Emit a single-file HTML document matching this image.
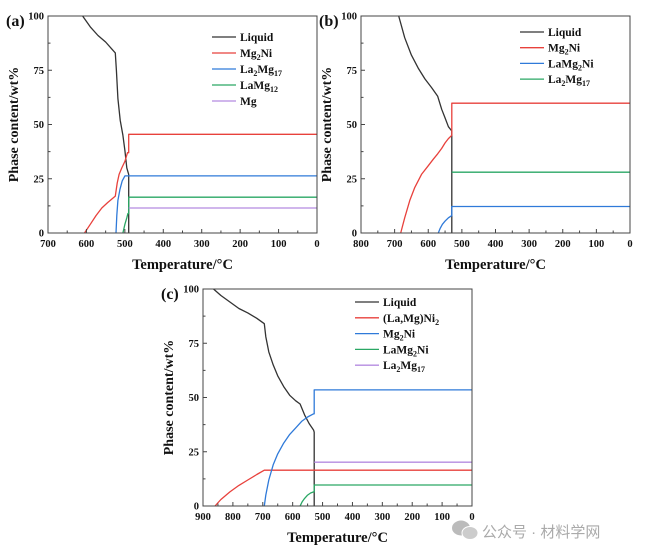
<!DOCTYPE html>
<html><head><meta charset="utf-8">
<style>
body{margin:0;background:#fff;width:654px;height:557px;overflow:hidden}
svg{display:block}
text{font-family:"Liberation Serif",serif;font-weight:bold;fill:#111}
</style></head>
<body>
<svg id="fig" width="654" height="557" viewBox="0 0 654 557" xmlns="http://www.w3.org/2000/svg">
<g>
<ellipse cx="461" cy="528" rx="9" ry="7.5" fill="#bbb"/>
<ellipse cx="470" cy="533" rx="8" ry="6.5" fill="#ccc" stroke="#fff" stroke-width="1"/>
<text x="482" y="537" style="font-family:'Liberation Sans','Noto Sans CJK SC',sans-serif;font-weight:normal;font-size:15px;fill:#aaa">公众号 · 材料学网</text>
</g>
</svg>
<script>
// ---- Panel (a) data ----
const aXTicks=[700,600,500,400,300,200,100,0];
const aYTicks=[0,25,50,75,100];
const aLegend=["Liquid","Mg₂Ni","La₂Mg₁₇","LaMg₁₂","Mg"];
const aLiquidT=[610,590,570,550,535,525,522,518,512,505,500,495,490,490];
const aLiquidV=[100,95,91,88,85,83,75,62,52,45,38,30,27,0];
const aMg2NiT=[605,590,575,560,545,525,520,515,508,500,493,490,490,0];
const aMg2NiV=[0,4,8,11.5,14,17,23,27,30,33,37,37,45.5,45.5];
const aLa2Mg17T=[523,521,518,513,507,500,0];
const aLa2Mg17V=[0,8,15,20,24,26.3,26.3];
const aLaMg12T=[505,500,495,492,490,490,0];
const aLaMg12V=[0,4,7,9,9,16.5,16.5];
const aMgT=[490,0];
const aMgV=[11.5,11.5];
// ---- Panel (b) data ----
const bXTicks=[800,700,600,500,400,300,200,100,0];
const bYTicks=[0,25,50,75,100];
const bLegend=["Liquid","Mg₂Ni","LaMg₂Ni","La₂Mg₁₇"];
const bLiquidT=[688,670,650,630,610,590,572,568,560,550,540,530,530];
const bLiquidV=[100,90,82,76,71,67,63,61,57,53,49,47,0];
const bMg2NiT=[682,670,655,640,620,600,585,572,560,550,540,530,530,0];
const bMg2NiV=[0,7,15,21,27,31,34,36.5,39,41.5,43.5,45,59.8,59.8];
const bLaMg2NiT=[570,565,558,550,540,530,530,0];
const bLaMg2NiV=[0,2,4,5.5,7,8,12.2,12.2];
const bLa2Mg17T=[530,0];
const bLa2Mg17V=[28,28];
// ---- Panel (c) data ----
const cXTicks=[900,800,700,600,500,400,300,200,100,0];
const cYTicks=[0,25,50,75,100];
const cLegend=["Liquid","(La,Mg)Ni₂","Mg₂Ni","LaMg₂Ni","La₂Mg₁₇"];
const cLiquidT=[865,840,810,780,750,720,695,690,680,665,650,630,610,590,575,560,545,530,528,528];
const cLiquidV=[100,97,94,91,89,86.5,84,78,71,65,60,55,51,48.5,47,42,38,35,34,0];
const cLaMgNi2T=[860,840,810,780,750,720,695,0];
const cLaMgNi2V=[0,3,6.5,9.5,12,14.5,16.5,16.5];
const cMg2NiT=[695,690,680,665,650,630,610,590,570,550,530,528,528,0];
const cMg2NiV=[0,5,12,19,24,29,33,36,39,41,42.5,42.5,53.5,53.5];
const cLaMg2NiT=[575,568,560,550,540,530,528,528,0];
const cLaMg2NiV=[0,2,3.5,5,6,6.5,6.5,9.7,9.7];
const cLa2Mg17T=[528,0];
const cLa2Mg17V=[20.2,20.2];

const NS="http://www.w3.org/2000/svg";
const svg=document.getElementById('fig');
const COLORS=["#333","#e8413c","#2f7ad9","#2aa764","#b48be0"];
const SUB="₀₁₂₃₄₅₆₇₈₉";
function mk(tag,attrs,parent){const e=document.createElementNS(NS,tag);for(const k in attrs)e.setAttribute(k,attrs[k]);(parent||svg).appendChild(e);return e;}
function richText(t,str){
  // split into normal / subscript runs
  let runs=[],cur='',sub=false;
  for(const ch of str){const s=SUB.indexOf(ch)>=0;if(s!==sub&&cur){runs.push([cur,sub]);cur='';}sub=s;cur+=s?String(SUB.indexOf(ch)):ch;}
  if(cur)runs.push([cur,sub]);
  let shifted=false;
  runs.forEach(([txt,s])=>{
    const ts=mk('tspan',{},t);
    if(s){ts.setAttribute('font-size','8');ts.setAttribute('dy',shifted?0:3);shifted=true;}
    else{ts.setAttribute('dy',shifted?-3:0);shifted=false;}
    ts.textContent=txt;
  });
}

function panel(id,label,box,xmax,xTicks,yTicks,series,legend,lg){
  const g=mk('g',{});
  
  
  const sx=t=>box.l+(xmax-t)/xmax*(box.r-box.l);
  const sy=v=>box.b-v/100*(box.b-box.t);
  series.forEach((s,i)=>{
    const pts=s.t.map((t,j)=>sx(t).toFixed(1)+','+sy(s.v[j]).toFixed(1)).join(' ');
    const p=mk('polyline',{points:pts,fill:'none',stroke:s.c,'stroke-width':1.3,'stroke-linejoin':'round'},g);
    
    
  });
  const f=mk('rect',{x:box.l,y:box.t,width:box.r-box.l,height:box.b-box.t,fill:'none',stroke:'#444','stroke-width':1},g);
  
  
  xTicks.forEach((t,i)=>{
    const x=sx(t);
    mk('line',{x1:x,x2:x,y1:box.b,y2:box.b-4,stroke:'#444'},g);
    if(i<xTicks.length-1){const xm=sx(t-50);mk('line',{x1:xm,x2:xm,y1:box.b,y2:box.b-2.5,stroke:'#444'},g);}
    const tx=mk('text',{x:x,y:box.b+14,'text-anchor':'middle','font-size':10.5},g);
    tx.textContent=t;
    
    
  });
  yTicks.forEach((v,i)=>{
    const y=sy(v);
    mk('line',{x1:box.l,x2:box.l+4,y1:y,y2:y,stroke:'#444'},g);
    if(i<yTicks.length-1){const ym=sy(v+12.5);mk('line',{x1:box.l,x2:box.l+2.5,y1:ym,y2:ym,stroke:'#444'},g);}
    const ty=mk('text',{x:box.l-4,y:y+3.5,'text-anchor':'end','font-size':10.5},g);
    ty.textContent=v;
    
    
  });
  const xt=mk('text',{x:(box.l+box.r)/2,y:box.b+36,'text-anchor':'middle','font-size':14.5},g);
  xt.textContent='Temperature/°C';
  
  
  const cx=box.l-30,cy=(box.t+box.b)/2;
  const yt=mk('text',{x:cx,y:cy,'text-anchor':'middle','font-size':14,transform:`rotate(-90 ${cx} ${cy})`},g);
  yt.textContent='Phase content/wt%';
  
  
  const pl=mk('text',{x:box.l-42,y:box.t+10,'font-size':16},g);
  pl.textContent=label;
  
  
  legend.forEach((name,i)=>{
    const y=lg.y+i*lg.dy;
    const le=mk('g',{},g);
    
    
    mk('line',{x1:lg.x,x2:lg.x+24,y1:y,y2:y,stroke:COLORS[i],'stroke-width':1.3},le);
    const t=mk('text',{x:lg.x+28,y:y+4,'font-size':11.5},le);
    richText(t,name);
  });
}
panel('a','(a)',{l:48,r:317,t:16,b:233},700,aXTicks,aYTicks,[
  {n:'liquid',t:aLiquidT,v:aLiquidV,c:COLORS[0]},
  {n:'mg2ni',t:aMg2NiT,v:aMg2NiV,c:COLORS[1]},
  {n:'la2mg17',t:aLa2Mg17T,v:aLa2Mg17V,c:COLORS[2]},
  {n:'lamg12',t:aLaMg12T,v:aLaMg12V,c:COLORS[3]},
  {n:'mg',t:aMgT,v:aMgV,c:COLORS[4]}],aLegend,{x:212,y:37,dy:16});
panel('b','(b)',{l:361,r:630,t:16,b:233},800,bXTicks,bYTicks,[
  {n:'liquid',t:bLiquidT,v:bLiquidV,c:COLORS[0]},
  {n:'mg2ni',t:bMg2NiT,v:bMg2NiV,c:COLORS[1]},
  {n:'lamg2ni',t:bLaMg2NiT,v:bLaMg2NiV,c:COLORS[2]},
  {n:'la2mg17',t:bLa2Mg17T,v:bLa2Mg17V,c:COLORS[3]}],bLegend,{x:520,y:32,dy:15.7});
panel('c','(c)',{l:203,r:472,t:289,b:506},900,cXTicks,cYTicks,[
  {n:'liquid',t:cLiquidT,v:cLiquidV,c:COLORS[0]},
  {n:'lamgni2',t:cLaMgNi2T,v:cLaMgNi2V,c:COLORS[1]},
  {n:'mg2ni',t:cMg2NiT,v:cMg2NiV,c:COLORS[2]},
  {n:'lamg2ni',t:cLaMg2NiT,v:cLaMg2NiV,c:COLORS[3]},
  {n:'la2mg17',t:cLa2Mg17T,v:cLa2Mg17V,c:COLORS[4]}],cLegend,{x:355,y:302,dy:15.8});
</script>
</body></html>
